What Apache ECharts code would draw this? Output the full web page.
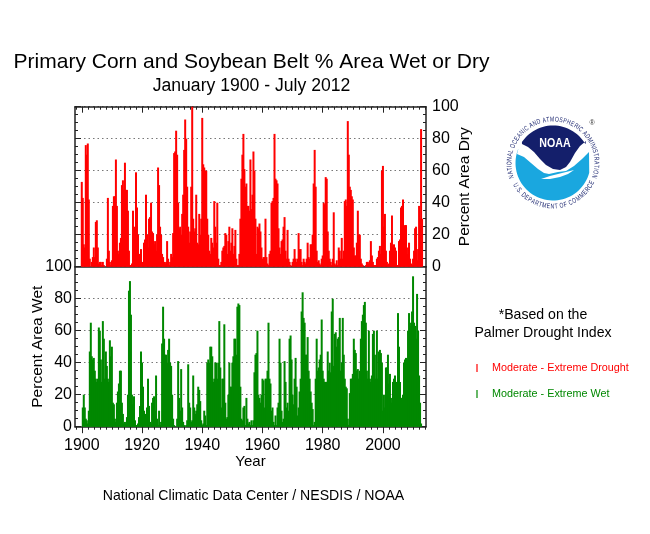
<!DOCTYPE html>
<html>
<head>
<meta charset="utf-8">
<title>Primary Corn and Soybean Belt % Area Wet or Dry</title>
<style>
  html, body { margin: 0; padding: 0; background: #fff; }
  #chart { width: 650px; height: 534px; }
</style>
<script src="https://cdn.jsdelivr.net/npm/echarts@6/dist/echarts.min.js"></script>
</head>
<body>
<div id="chart"></div>
<script>
const startYear = 1900
const samplesPerYear = 3

// one value every four months from January 1900
const dryValues = [
  53,43,14,12,76,70,77,42,5, 0,3,6,12,6,28,29,12,2, 3,3,1,3,1,0,0,5,43,
  10,3,1,4,38,44,44,67,38, 10,8,15,18,51,54,48,65,48, 48,35,10,1,1,2,35,12,25,
  59,37,20,8,3,11,3,1,15, 17,45,20,12,30,31,40,22,21, 14,16,10,20,62,51,25,20,8,
  6,3,2,3,16,5,1,3,8, 6,21,71,72,85,70,40,24,25, 20,33,45,73,92,80,50,25,15,
  22,50,100,30,22,24,45,15,14, 33,20,30,93,64,62,60,60,30, 20,10,8,18,15,12,41,25,15,
  40,5,1,1,3,10,12,13,21, 20,8,16,25,10,15,24,8,13, 23,5,1,1,8,30,55,70,83,
  61,50,52,38,38,35,67,36,45,
  72,60,30,8,25,24,27,22,12, 5,6,6,30,6,2,1,8,10, 40,41,43,83,55,54,52,24,12,
  8,16,17,25,31,10,5,23,5, 3,1,0,3,5,11,5,3,5, 21,11,11,3,1,5,3,2,5,
  15,6,5,14,14,20,52,73,50, 10,3,4,2,1,5,7,40,39, 56,55,22,10,5,3,1,5,34,
  2,1,4,1,12,10,5,18,5, 10,41,42,38,91,70,50,48,44, 42,12,7,7,15,35,20,20,5,
  2,1,0,0,1,3,3,2,4, 16,7,3,1,1,1,5,6,10, 13,8,60,63,25,33,10,3,1,
  2,10,15,32,13,14,12,10,1, 1,16,17,37,38,42,20,26,26, 8,12,15,5,2,1,5,10,24,
  25,4,11,38,30,86,30
]

const wetValues = [
  0,12,20,12,5,4,2,10,47, 65,44,42,43,35,30,28,30,62, 60,42,28,66,55,30,47,38,30,
  28,54,44,50,15,14,5,3,15, 22,27,35,35,15,8,2,3,2, 6,20,85,91,70,20,14,19,4,
  1,1,2,6,13,47,40,25,10, 8,2,12,30,13,3,2,15,18, 19,10,32,5,1,10,1,3,52,
  75,55,45,45,40,48,55,40,38, 20,5,1,0,0,5,41,18,10, 36,12,3,1,0,1,4,39,15,
  12,3,4,32,12,8,10,14,25, 23,16,4,1,2,10,7,1,40, 42,40,50,50,44,28,30,40,40,
  30,40,66,37,12,30,30,64,15, 5,6,20,40,25,25,40,44,55, 55,45,75,77,76,25,5,4,12,
  13,1,18,5,2,3,1,4,1,
  4,34,45,46,60,20,18,15,20, 30,29,12,30,30,35,65,30,27, 10,12,3,1,7,1,12,15,55,
  40,10,3,5,41,28,12,15,10, 55,57,42,20,14,30,43,25,7, 12,22,30,72,84,68,65,45,45,
  56,35,30,22,15,11,1,3,30, 55,35,37,42,45,67,35,30,28, 28,28,47,35,40,34,72,80,38,
  58,59,50,55,56,68,35,40,68, 45,30,25,24,5,1,21,30,30, 33,55,48,46,35,36,30,35,55,
  66,70,76,78,65,35,30,60,30, 28,32,58,60,45,30,60,30,47, 48,46,40,10,20,12,37,37,45,
  27,33,18,15,28,30,32,25,28, 71,50,28,18,18,20,40,42,43, 42,60,71,63,65,72,94,65,63,
  55,83,60,32,15,2
]

const yearLabels = [1900, 1920, 1940, 1960, 1980, 2000]
const minorYears = [1898, 1900, 1902, 1904, 1906, 1908, 1910, 1912, 1914, 1916, 1918, 1920,
  1922, 1924, 1926, 1928, 1930, 1932, 1934, 1936, 1938, 1940, 1942, 1944, 1946, 1948, 1950,
  1952, 1954, 1956, 1958, 1960, 1962, 1964, 1966, 1968, 1970, 1972, 1974, 1976, 1978, 1980,
  1982, 1984, 1986, 1988, 1990, 1992, 1994, 1996, 1998, 2000, 2002, 2004, 2006, 2008, 2010,
  2012, 2014]

const xMin = 1897.75
const xMax = 2014.3
const axisColor = '#222'
const font = '"Liberation Sans", Arial, sans-serif'

function toPoints(values) {
  return values.map((v, i) => [startYear + i / samplesPerYear, v])
}

function xAxis(gridIndex, position, values, length, showLine, showLabel) {
  return {
    type: 'value',
    gridIndex,
    position,
    min: xMin,
    max: xMax,
    splitLine: { show: false },
    axisLine: { show: showLine, onZero: false, lineStyle: { color: axisColor, width: 1.5 } },
    axisTick: {
      show: values.length > 0,
      inside: position === 'top',
      length,
      customValues: values,
      lineStyle: { color: axisColor, width: 1 }
    },
    axisLabel: {
      show: showLabel,
      customValues: yearLabels,
      formatter: v => String(v),
      color: '#000',
      fontFamily: font,
      fontSize: 16,
      margin: 11
    },
    name: showLabel ? 'Year' : '',
    nameLocation: 'middle',
    nameGap: 27,
    nameTextStyle: { color: '#000', fontFamily: font, fontSize: 15 }
  }
}

function yAxis(gridIndex, position, labelled, name, grid, nameGap, labelMargin) {
  return {
    type: 'value',
    gridIndex,
    position,
    min: 0,
    max: 100,
    interval: 20,
    splitLine: {
      show: grid,
      lineStyle: { color: '#777', type: [1.5, 3], width: 1 }
    },
    axisLine: { show: true, lineStyle: { color: axisColor, width: 1.5 } },
    axisTick: { show: true, inside: true, length: 6, lineStyle: { color: axisColor } },
    minorTick: { show: true, splitNumber: 4, length: 3, lineStyle: { color: axisColor } },
    axisLabel: {
      show: labelled,
      color: '#000',
      fontFamily: font,
      fontSize: 16,
      margin: labelMargin
    },
    name,
    nameLocation: 'middle',
    nameRotate: 90,
    nameGap,
    nameMoveOverlap: false,
    nameTextStyle: { color: '#000', fontFamily: font, fontSize: 15.5 }
  }
}

const measure = document.createElement('canvas').getContext('2d')

// ring lettering of the logo, one rotated text element per character,
// spread along the arc by each letter's own width
function ringText(text, cx, cy, radius, fromDeg, toDeg, bottom) {
  const size = 7
  measure.font = size + 'px ' + font
  const total = measure.measureText(text).width
  let done = 0
  return text.split('').map(ch => {
    const w = measure.measureText(ch).width
    const deg = fromDeg + (toDeg - fromDeg) * (done + w / 2) / total
    done += w
    const rad = deg * Math.PI / 180
    return {
      type: 'text',
      x: cx + radius * Math.sin(rad),
      y: bottom ? cy + radius * Math.cos(rad) : cy - radius * Math.cos(rad),
      rotation: bottom ? rad : -rad,
      scaleX: 0.72,
      silent: true,
      style: {
        text: ch,
        fill: '#141f6b',
        fontFamily: font,
        fontSize: size,
        textAlign: 'center',
        textVerticalAlign: 'middle'
      }
    }
  })
}

function label(text, x, y, size, color, align) {
  return {
    type: 'text',
    x,
    y,
    silent: true,
    style: {
      text,
      fill: color || '#000',
      fontFamily: font,
      fontSize: size,
      textAlign: align || 'center',
      textVerticalAlign: 'middle'
    }
  }
}

function legendMark(y, color) {
  return {
    type: 'line',
    silent: true,
    shape: { x1: 477, y1: y - 4, x2: 477, y2: y + 4 },
    style: { stroke: color, lineWidth: 1.2 }
  }
}

// points on the logo circle, degrees clockwise from twelve o'clock
function arcPoints(cx, cy, r, fromDeg, toDeg) {
  const pts = []
  for (let d = fromDeg; d <= toDeg; d += 4) {
    const rad = d * Math.PI / 180
    pts.push([cx + r * Math.sin(rad), cy - r * Math.cos(rad)])
  }
  return pts
}

function logoShape(points, fill) {
  return { type: 'polygon', silent: true, shape: { points }, style: { fill } }
}

const logoX = 553
const logoY = 163

const cyanEdge = [[517, 154], [524, 157], [531, 163], [538, 169], [544, 173], [549, 174],
  [558, 172], [566, 171], [574, 166], [582, 159], [589, 152]]
const navyEdge = [[586, 141], [580, 146], [575, 153], [570, 162], [566, 167], [560, 170],
  [553, 169], [546, 165], [540, 159], [534, 152], [528, 147], [522, 144]]
const gullWing = [[541, 179], [550, 176], [558, 174], [566, 172], [574, 170], [568, 174],
  [560, 177], [550, 179]]

const graphicElements = [
  label('Primary Corn and Soybean Belt % Area Wet or Dry', 251.5, 62, 21),
  label('January 1900 - July 2012', 251.5, 86, 17.6),
  label('National Climatic Data Center / NESDIS / NOAA', 253.5, 496, 14.1),
  label('*Based on the', 543, 315, 14.1),
  label('Palmer Drought Index', 543, 333, 14.1),
  legendMark(368, '#ff0000'),
  label('Moderate - Extreme Drought', 492, 368, 10.8, '#ff0000', 'left'),
  legendMark(394, '#008800'),
  label('Moderate - Extreme Wet', 492, 394, 10.8, '#008800', 'left'),
  logoShape(cyanEdge.concat(arcPoints(logoX, logoY, 37.5, 105, 296)), '#1aa7df'),
  logoShape(arcPoints(logoX, logoY, 37.5, -56, 60).concat(navyEdge), '#141f6b'),
  logoShape(gullWing, '#fff'),
  {
    type: 'text',
    x: 555,
    y: 143,
    scaleX: 0.82,
    silent: true,
    style: {
      text: 'NOAA',
      fill: '#fff',
      fontFamily: font,
      fontWeight: 'bold',
      fontSize: 13,
      textAlign: 'center',
      textVerticalAlign: 'middle'
    }
  },
  label('®', 592, 123, 7, '#333')
]
  .concat(ringText('NATIONAL OCEANIC AND ATMOSPHERIC ADMINISTRATION', logoX, logoY, 43.5, -111, 109, false))
  .concat(ringText('U.S. DEPARTMENT OF COMMERCE', logoX, logoY, 43.5, -62, 65, true))

const option = {
  animation: false,
  backgroundColor: '#fff',
  grid: [
    { left: 75, right: 224, top: 106.7, height: 160 },
    { left: 75, right: 224, top: 266.7, height: 160 }
  ],
  xAxis: [
    xAxis(0, 'top', yearLabels, 6, true, false),
    xAxis(0, 'top', minorYears, 3, false, false),
    xAxis(0, 'bottom', [], 0, true, false),
    xAxis(1, 'bottom', yearLabels, 6.5, true, true),
    xAxis(1, 'bottom', minorYears, 3, false, false)
  ],
  yAxis: [
    yAxis(0, 'right', true, 'Percent Area Dry', true, 31, 6),
    yAxis(0, 'left', false, '', false, 0, 6),
    yAxis(1, 'left', true, 'Percent Area Wet', true, 29, 3),
    yAxis(1, 'right', false, '', false, 0, 6)
  ],
  series: [
    {
      name: 'Moderate - Extreme Drought',
      type: 'bar',
      xAxisIndex: 0,
      yAxisIndex: 0,
      barWidth: 2,
      itemStyle: { color: '#ff0000' },
      data: toPoints(dryValues)
    },
    {
      name: 'Moderate - Extreme Wet',
      type: 'bar',
      xAxisIndex: 3,
      yAxisIndex: 2,
      barWidth: 2,
      itemStyle: { color: '#008800' },
      data: toPoints(wetValues)
    }
  ],
  graphic: { elements: graphicElements }
}

const chart = echarts.init(document.getElementById('chart'), null, { renderer: 'canvas' })
chart.setOption(option)
</script>
</body>
</html>
